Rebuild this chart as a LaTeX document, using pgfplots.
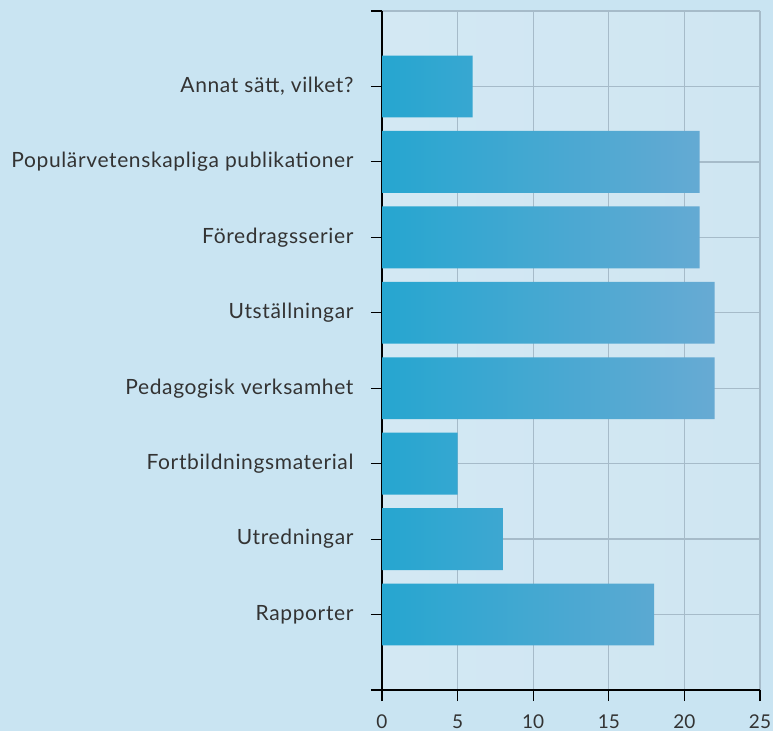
\documentclass[border=0pt]{standalone}
\usepackage{fontspec}
\setmainfont{Lato}
\newfontfamily\labfont[LetterSpace=3]{Lato}
\usepackage{pgfplots}
\pgfplotsset{compat=1.18}
\definecolor{pagebg}{HTML}{C9E4F2}
\definecolor{plotbg}{HTML}{CFE6F2}
\definecolor{plotbgL}{HTML}{D3E8F3}
\definecolor{gridc}{HTML}{A6BBC9}
\definecolor{barL}{HTML}{26A6D0}
\definecolor{barR}{HTML}{67AAD3}
\definecolor{txt}{HTML}{333333}
\begin{document}
\begin{tikzpicture}[x=1pt,y=1pt]
\fill[pagebg] (0,0) rectangle (773,731);
\useasboundingbox (0,0) rectangle (773,731);
\begin{axis}[
  at={(382pt,41pt)}, anchor=south west,
  scale only axis, width=378pt, height=679pt,
  xmin=0, xmax=25, ymin=-1, ymax=8,
  xtick={0,5,...,25},
  ytick={-1,0,...,8},
  yticklabels={,Rapporter,Utredningar,Fortbildningsmaterial,Pedagogisk verksamhet,Utställningar,Föredragsserier,Populärvetenskapliga publikationer,{Annat sätt, vilket?},},
  axis x line*=bottom, axis y line*=left,
  axis line style={black, line width=1.2pt, -},
  tick align=outside,
  major tick length=11pt,
  tick style={black, line width=1.2pt},
  grid=major,
  major grid style={gridc, line width=1.3pt},
  axis background/.style={left color=plotbgL, right color=plotbg},
  /pgf/number format/assume math mode=true,
  xticklabel style={font=\fontsize{19}{21}\selectfont, text=txt, yshift=-10pt},
  yticklabel style={font=\labfont\fontsize{21}{23}\selectfont, text=txt, xshift=-14pt},
  clip=false,
]
\addplot[xbar, bar width=0.82, draw=none, left color=barL, right color=barR]
  coordinates {(18,0) (8,1) (5,2) (22,3) (22,4) (21,5) (21,6) (6,7)};
\end{axis}
\end{tikzpicture}
\end{document}
